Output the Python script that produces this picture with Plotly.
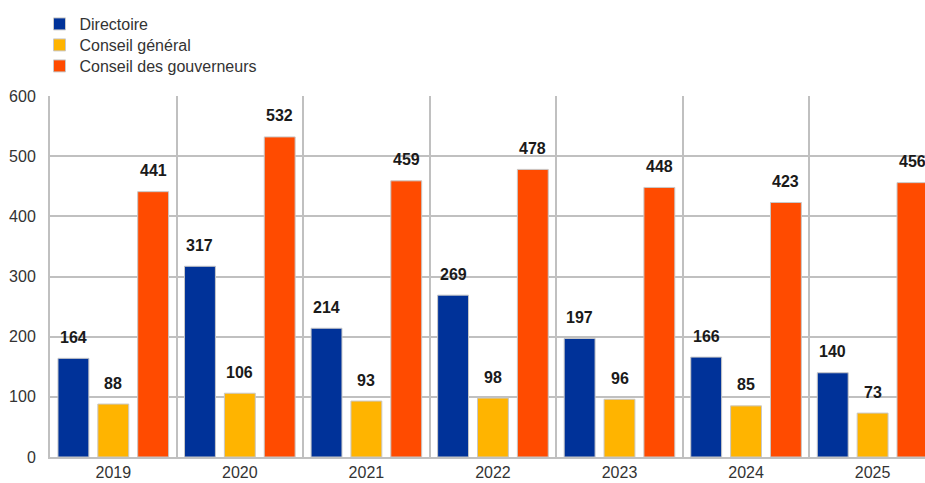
import plotly.graph_objects as go

# Yearly counts per decision-making body
years = ["2019", "2020", "2021", "2022", "2023", "2024", "2025"]
directoire = [164, 317, 214, 269, 197, 166, 140]
conseil_general = [88, 106, 93, 98, 96, 85, 73]
conseil_gouverneurs = [441, 532, 459, 478, 448, 423, 456]

series = [
    ("Directoire", directoire, "#003299"),
    ("Conseil général", conseil_general, "#FFB400"),
    ("Conseil des gouverneurs", conseil_gouverneurs, "#FF4B00"),
]

FONT = "Arial, Liberation Sans, sans-serif"
BARGAP = 0.055
GROUPGAP = 0.225
slot = (1 - BARGAP) / len(series)

# one legend per series so the rows can be stacked tightly
legend_names = ["legend", "legend2", "legend3"]
legend_rows_px = [24, 45, 66]
H = 483

xs = list(range(len(years)))

fig = go.Figure()
annotations = []
for k, (name, vals, color) in enumerate(series):
    fig.add_trace(go.Bar(
        x=xs, y=vals, name=name, legend=legend_names[k],
        marker=dict(color=color, line=dict(color="#c8c8c8", width=1)),
    ))
    offset = (k - (len(series) - 1) / 2) * slot
    for xi, v in zip(xs, vals):
        annotations.append(dict(
            x=xi + offset, y=v, xref="x", yref="y",
            text=str(v), showarrow=False,
            yanchor="middle", yshift=21,
            font=dict(family=FONT, size=16, color="#1a1a1a", weight="bold"),
        ))

legend_style = dict(
    x=-0.012, xref="paper", yref="container",
    xanchor="left", yanchor="middle",
    font=dict(family=FONT, size=16, color="#333333"),
    bgcolor="rgba(0,0,0,0)", itemclick=False, itemdoubleclick=False,
)

fig.update_layout(
    width=925, height=H,
    margin=dict(l=50, r=0, t=96, b=26, autoexpand=False),
    paper_bgcolor="white", plot_bgcolor="white",
    barmode="group", bargap=BARGAP, bargroupgap=GROUPGAP,
    font=dict(family=FONT, size=16, color="#333333"),
    showlegend=True,
    annotations=annotations,
)
for name, row in zip(legend_names, legend_rows_px):
    fig.update_layout({name: dict(legend_style, y=1 - row / H)})

fig.update_xaxes(
    range=[-0.5, 6.414],
    tickvals=xs, ticktext=years,
    showgrid=False, zeroline=False,
    showline=True, linecolor="#c0c0c0", linewidth=2,
    ticks="", ticklabelstandoff=0,
    minor=dict(tick0=0.5, dtick=1, showgrid=True, gridcolor="#c0c0c0", gridwidth=2),
    tickfont=dict(family=FONT, size=16, color="#333333"),
    automargin=False,
)
fig.update_yaxes(
    range=[0, 600], dtick=100,
    showgrid=True, gridcolor="#c0c0c0", gridwidth=2,
    zeroline=False,
    showline=True, linecolor="#c0c0c0", linewidth=2,
    ticks="", ticklabelstandoff=9,
    tickfont=dict(family=FONT, size=16, color="#333333"),
    automargin=False,
)

fig.write_html("out.html")
